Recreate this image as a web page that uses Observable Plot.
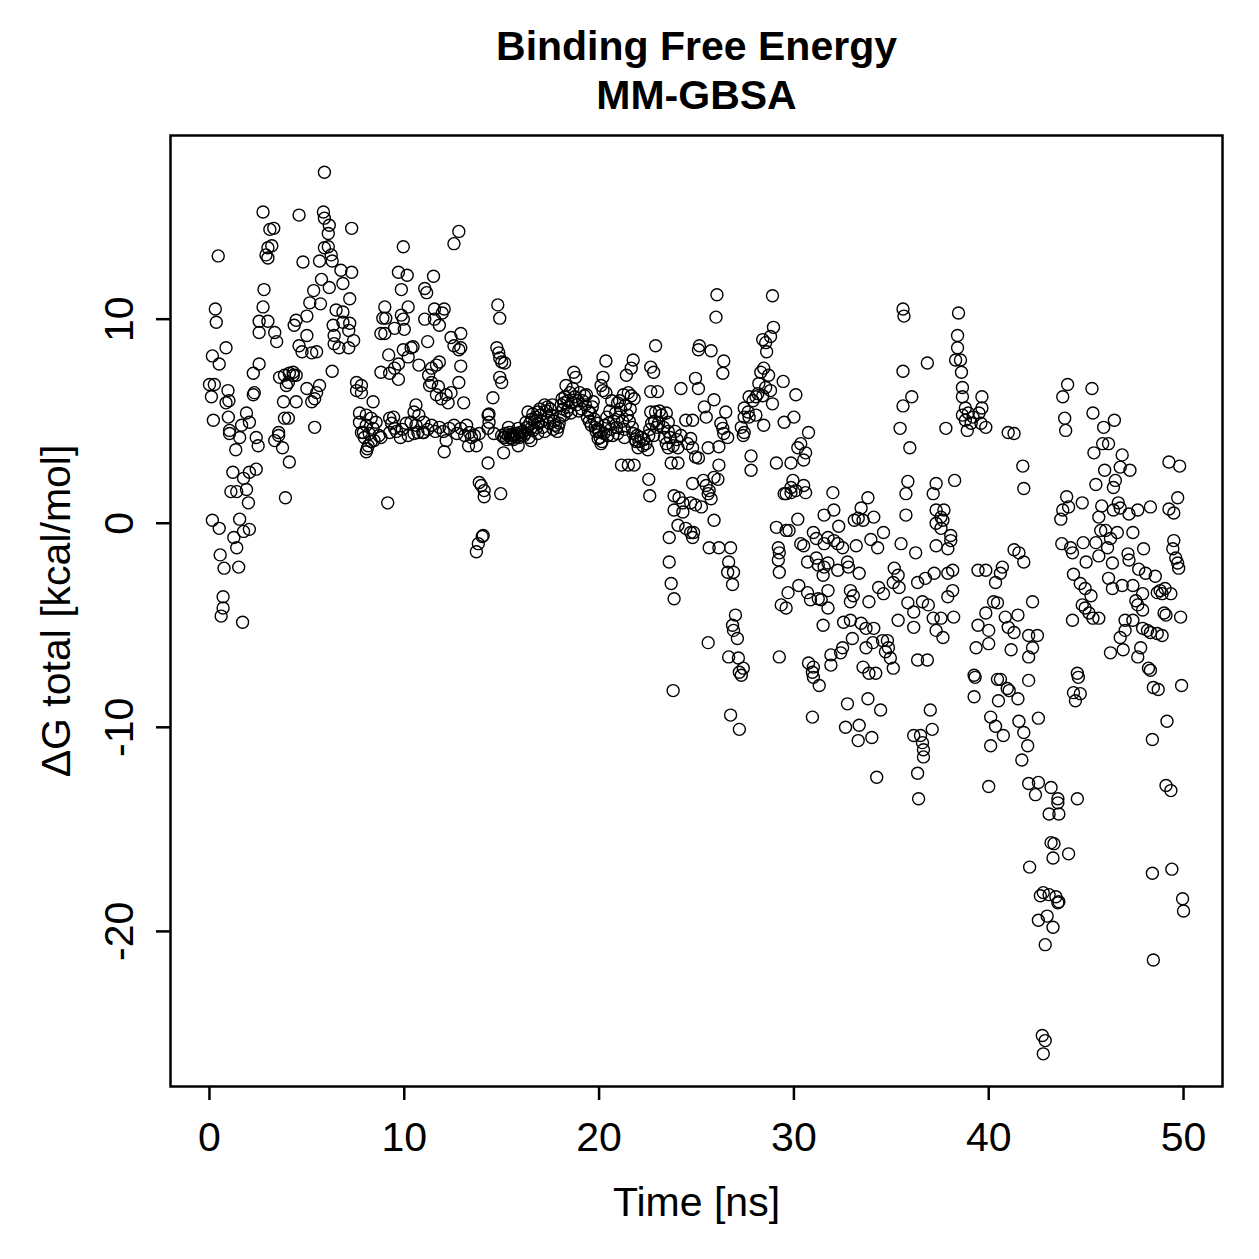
<!DOCTYPE html>
<html><head><meta charset="utf-8">
<script src="https://cdn.jsdelivr.net/npm/d3@7"></script>
<script src="https://cdn.jsdelivr.net/npm/@observablehq/plot@0.6"></script>
<style>body{margin:0;background:#fff} svg{display:block}</style>
</head><body><div id="chart"></div>
<script>
// [time (ns), ΔG total (kcal/mol)]
const seg00_10 = [[0.0,6.8],[0.1,6.2],[0.25,6.8],[0.2,5.05],[0.15,8.2],[0.3,10.5],[0.35,9.85],[0.5,7.8],[0.45,13.1],[0.15,0.15],[0.5,-0.25],[0.55,-1.55],[0.75,-2.2],[0.7,-3.6],[0.7,-4.15],[0.6,-4.55],[0.85,8.6],[0.95,6.5],[1.0,6.0],[0.85,5.9],[0.97,5.2],[1.03,4.55],
[1.03,4.4],[1.2,2.5],[1.1,1.55],[1.4,1.55],[1.25,-0.7],[1.4,-1.2],[1.5,-2.15],[1.55,0.2],[1.55,4.2],[1.35,3.6],[1.75,2.2],[1.9,1.65],[2.0,1.0],[1.75,-0.4],[2.05,-0.3],[1.7,-4.85],[1.9,5.4],[2.05,4.95],[1.65,4.8],[2.05,2.5],[2.4,2.65],[2.4,4.2],[2.5,3.8],
[2.25,7.35],[2.55,7.8],[2.3,6.4],[2.25,6.3],[2.75,15.25],[3.1,14.4],[3.3,14.45],[3.0,13.5],[3.2,13.6],[2.9,13.15],[3.0,13.0],[2.8,11.45],[2.75,10.6],[2.55,9.9],[3.0,9.9],[2.55,9.35],[3.35,9.35],[3.45,8.9],
[3.35,4.05],[3.55,4.3],[3.75,3.7],[3.55,4.45],[3.85,5.15],[4.05,5.15],[3.9,1.25],[4.1,3.0],[3.8,5.95],[3.6,7.15],[3.85,7.25],[4.1,7.35],[4.3,7.4],[4.45,7.25],[3.95,6.75],[4.45,5.95],[4.05,6.9],[4.3,7.25],
[4.6,15.1],[4.8,12.8],[4.45,9.95],[5.0,10.15],[4.35,9.7],[5.0,9.2],[4.6,8.7],[4.75,8.4],[5.25,8.35],[5.5,8.4],[5.0,6.6],[5.25,5.95],[5.4,6.1],[5.5,6.4],[5.65,6.75],[5.4,4.7],[5.15,10.8],[5.7,10.75],[5.35,11.4],[5.75,11.95],
[5.85,15.25],[5.9,14.95],[6.15,14.6],[6.1,14.2],[6.1,13.55],[5.9,13.5],[6.25,13.15],[5.9,17.2],[5.65,12.85],[6.3,12.85],[6.15,11.55],[6.3,7.45],[6.75,12.4],[7.3,12.3],[6.85,11.75],[7.2,11.0],[6.5,10.45],[6.85,10.35],[6.35,9.7],[6.85,9.85],[7.2,9.8],[6.4,9.2],[7.15,9.45],[7.4,8.95],[6.4,8.8],[6.65,8.6],[7.15,8.6],[7.3,14.45],
[7.55,6.9],[7.55,6.5],[7.7,5.4],[7.7,4.95],[7.8,4.45],[7.8,6.75],[7.8,6.4],[8.4,5.95],[8.05,5.3],[8.3,5.15],[8.55,4.95],[8.05,4.8],[8.4,4.65],[7.9,4.45],[8.2,4.4],[9.25,5.15],[9.45,5.2],[9.35,4.9],[9.25,4.45],[9.5,4.65],
[7.95,4.2],[8.15,3.8],[8.45,4.05],[8.8,4.2],[8.05,3.5],[8.1,3.65],[8.3,4.0],[8.7,4.3],
[8.8,7.4],[9.25,7.35],[9.0,10.6],[8.9,10.05],[9.05,10.05],[9.0,9.3],[8.8,9.3],[9.2,8.25],
[9.15,1.0],[9.5,9.55],[9.7,12.3],[9.95,13.55],[9.85,11.45],[9.85,10.2],[9.95,10.0],[9.7,7.8],[9.5,7.6],[9.7,7.05],[9.95,8.5],[9.6,4.5],[9.8,4.2],[9.9,4.6]];

const seg10_20 = [[10.0,9.5],[10.15,12.15],[10.2,10.6],[10.35,8.6],[10.45,8.65],[10.2,8.15],[10.6,5.8],[10.75,7.75],[10.5,5.45],[10.75,5.3],[10.35,4.95],[10.6,4.8],[11.0,4.95],[10.7,4.45],[11.0,4.45],[10.2,4.3],[10.5,4.4],[10.95,4.45],[10.1,4.9],
[11.05,11.5],[11.05,10.0],[11.15,11.3],[11.2,8.9],[11.25,7.25],[11.4,6.9],[11.3,6.75],[11.5,12.1],[11.55,10.5],[11.55,10.0],[11.8,9.7],[11.65,7.75],[11.4,7.6],[11.8,7.9],[11.75,6.7],[11.65,6.3],[11.9,6.1],[12.05,10.5],[11.95,10.3],[11.2,4.6],[11.4,4.8],[11.6,4.5],[11.8,4.7],
[12.15,6.3],[12.25,5.9],[12.4,6.4],[12.4,9.1],[12.55,13.7],[12.55,8.7],[12.8,8.5],[12.9,8.6],[12.8,6.9],[12.9,7.7],[12.9,9.3],[12.8,14.3],[13.05,5.9],[12.3,4.65],[12.55,4.8],[12.9,4.65],[13.2,4.8],[13.35,4.45],[12.05,3.5],[12.15,4.05],[12.0,4.5],[12.7,4.4],
[13.1,4.3],[13.45,4.2],[13.7,3.8],[13.3,3.8],[13.6,4.3],[13.85,4.4],[13.85,2.0],[13.95,1.85],[14.1,1.6],[14.1,1.3],[14.95,1.45],[14.0,-0.65],[14.05,-0.6],[13.8,-1.0],[13.7,-1.4],
[14.3,2.95],[14.3,5.3],[14.35,4.95],[14.3,4.65],[14.35,5.35],[14.55,6.15],[14.75,8.6],[14.85,8.35],[14.9,8.1],[15.0,7.9],[15.15,7.85],[14.9,7.15],[15.0,6.9],[14.8,10.7],[14.9,10.05],[15.1,3.45],[14.6,4.4],
[15.15,4.2],[15.5,4.15],[15.85,3.8],[16.15,4.3],[16.5,4.05],[15.35,4.7],[15.85,4.65],[16.25,4.95],[16.35,5.45],[16.5,4.65],
[15.0,4.3],[15.1,4.2],[15.2,4.4],[15.25,4.1],[15.35,4.3],[15.4,4.45],[15.45,4.2],[15.55,4.35],[15.6,4.1],[15.65,4.3],[15.75,4.4],[15.8,4.25],[15.9,4.2],[15.95,4.45],
[16.0,4.3],[16.1,4.5],[16.2,4.4],[16.3,4.7],[16.45,4.9],[16.55,5.1],[16.6,5.35],[16.7,5.0],[16.75,5.2],[16.8,4.7],[16.9,4.9],[16.95,5.6],[16.6,4.55],[16.4,4.2],[16.85,4.4],
[17.0,5.3],[17.05,5.0],[17.1,4.7],[17.2,4.5],[17.3,5.5],[17.35,5.7],[17.4,5.2],[17.45,4.9],[17.5,5.6],[17.55,5.3],[17.65,4.6],[17.7,5.0],[17.75,4.8],[17.85,4.5],[17.9,4.7],[17.95,4.9],[17.6,5.8],
[18.0,5.2],[18.05,5.8],[18.1,6.1],[18.15,5.6],[18.2,5.9],[18.25,6.2],[18.35,5.5],[18.4,6.0],[18.45,5.7],[18.5,6.4],[18.55,5.4],[18.6,5.9],[18.75,6.2],[18.85,5.8],[18.9,6.0],[18.95,5.5],[18.2,5.3],[18.65,6.6],
[19.1,5.6],[19.15,6.0],[19.3,5.8],[19.4,5.2],[19.45,5.5],[19.5,5.0],[19.55,5.4],[19.6,4.8],[19.75,5.1],[19.8,4.7],[19.85,4.5],[19.9,4.9],[19.95,4.6],[19.35,6.3],[19.65,5.7],
[17.2,5.8],[16.85,5.45],[18.7,7.4],[18.8,7.15],[18.3,6.75],[19.0,6.4],[19.25,6.25],[19.7,5.95],[19.95,4.15]];

const seg20_30 = [[20.35,7.95],[20.2,7.15],[20.1,6.75],[20.2,6.5],[20.35,6.4],[20.45,4.3],[20.95,4.4],[21.3,4.2],[20.1,3.9],
[20.0,4.5],[20.05,4.2],[20.15,4.0],[20.25,4.4],[20.3,4.8],[20.4,5.2],[20.5,4.9],[20.55,5.5],[20.6,4.6],[20.7,4.3],[20.75,5.0],[20.85,5.4],[20.9,4.7],[20.95,5.9],[20.65,6.0],
[21.0,5.2],[21.05,6.0],[21.1,5.6],[21.2,5.0],[21.25,6.3],[21.35,5.8],[21.45,5.3],[21.55,5.0],[21.6,5.6],[21.7,4.7],[21.75,4.4],[21.85,4.1],[21.9,4.0],[21.95,4.3],[21.3,4.6],
[22.05,4.0],[22.15,4.2],[22.3,4.1],[22.4,3.9],[22.55,4.3],[22.6,4.6],[22.7,4.9],[22.8,4.3],[22.85,5.0],[22.95,4.7],[23.05,4.9],[23.1,5.5],[23.3,4.7],[23.35,4.2],[23.45,3.9],
[23.55,4.5],[23.65,4.2],[23.9,4.5],[24.0,4.1],[24.2,4.3],
[21.75,8.0],[21.65,7.6],[21.4,7.25],[21.5,6.4],[21.65,6.25],[21.8,6.1],[21.15,2.85],[21.5,2.85],[21.8,2.85],
[22.65,7.65],[22.8,7.4],[22.9,8.7],[22.65,6.45],[23.0,6.45],[22.65,5.45],[22.9,5.45],[23.2,5.3],[23.45,5.4],[23.55,4.95],[22.0,3.7],[22.25,3.8],[22.5,3.6],[22.55,2.15],[22.6,1.35],
[23.55,3.7],[23.8,3.8],[24.05,3.7],[23.7,2.95],[24.05,2.95],[23.85,1.35],[24.1,1.25],[24.3,1.0],[23.85,0.65],[24.3,0.55],[24.05,-0.1],[24.45,-0.25],[24.7,-0.45],[23.6,-0.7],[23.6,-1.9],[23.7,-2.95],[23.85,-3.7],[23.8,-8.2],
[24.2,6.6],[24.45,5.05],[24.55,3.9],[24.8,5.05],[24.7,4.15],[24.8,3.7],[25.1,3.2],[24.95,3.25],[24.8,1.95],[24.7,1.0],[24.95,0.9],[25.25,0.8],[24.85,-0.45],[24.8,-0.7],
[25.15,8.7],[25.1,8.5],[24.95,7.1],[25.1,6.6],[25.75,8.45],[26.05,11.2],[26.0,10.1],[26.4,7.95],[26.35,7.35],[25.9,6.05],[25.4,5.7],[25.5,5.2],[26.5,5.45],[26.25,4.9],[26.35,4.65],[26.4,4.4],[26.6,4.2],[25.6,3.7],[26.15,3.75],[26.15,2.85],[25.9,2.25],[26.1,2.15],[25.35,2.1],[25.5,1.85],[25.65,1.6],[25.6,1.45],[25.75,1.2],[25.9,0.15],[25.65,-1.2],[26.15,-1.2],[26.75,-1.2],[26.65,-1.9],[26.6,-2.4],[26.9,-2.4],[26.85,-3.0],[27.0,-4.5],[26.85,-5.0],[26.9,-5.25],[27.1,-5.65],[25.6,-5.85],[26.65,-6.55],[27.15,-6.6],[27.4,-7.1],[27.3,-7.45],[27.2,-7.3],[26.75,-9.4],[27.2,-10.1],
[28.9,11.15],[28.95,9.6],[28.4,9.0],[28.55,8.85],[28.8,9.15],[28.6,8.4],[28.45,7.6],[28.3,7.4],[28.7,7.25],[29.45,6.95],[28.2,6.85],[28.55,6.65],[28.8,6.5],[28.15,6.35],[28.4,6.25],[27.7,6.2],[27.9,6.0],[28.05,6.2],[28.9,5.85],[27.45,5.65],[27.65,5.45],[27.7,5.2],[27.45,5.2],[27.3,4.7],[27.45,4.45],[27.4,4.3],[28.05,5.3],[28.45,4.8],[29.5,4.95],[27.8,3.3],[27.8,2.6],[29.1,2.95],[29.85,2.95],[29.95,2.1],[29.85,1.75],[29.6,1.45],[29.5,1.45],[29.85,1.5],[29.1,-0.2],[29.6,-0.35],[29.75,-0.35],[29.2,-1.2],[29.25,-1.45],[29.2,-1.8],[29.25,-2.4],[29.7,-3.4],[29.35,-4.0],[29.6,-4.15],[29.25,-6.55]];

const seg30_40 = [[30.1,6.3],[30.0,5.2],[30.75,4.45],[30.35,3.9],[30.2,3.7],[30.6,3.45],[30.5,3.1],[30.1,1.6],[30.5,1.85],[30.6,1.5],[32.0,1.5],[30.2,0.2],[31.55,0.4],[32.05,0.65],[32.3,-0.15],[33.1,0.15],[30.35,-1.0],[30.5,-1.1],[31.0,-0.45],[31.15,-0.75],[31.55,-1.0],[31.75,-0.7],[32.05,-0.85],[32.25,-1.0],[32.5,-1.2],[30.7,-1.9],[31.15,-1.7],[31.25,-2.05],[31.55,-2.15],[31.75,-1.95],[31.5,-2.55],[32.25,-2.3],[32.75,-1.9],[32.8,-2.15],[30.25,-3.05],[30.7,-3.4],[30.85,-3.75],[31.25,-3.7],[31.4,-3.75],[31.75,-3.3],[31.75,-4.15],[32.9,-3.3],[33.05,-3.55],[32.9,-3.85],[31.5,-5.0],[32.55,-4.85],[32.9,-4.75],[33.0,-5.65],[30.75,-6.85],[31.0,-7.05],[30.95,-7.3],[31.9,-6.45],[32.4,-6.35],[32.5,-6.1],[31.9,-6.95],[31.0,-7.55],[31.3,-7.95],[30.95,-9.5],[32.75,-8.85],[32.65,-10.0],
[35.6,10.5],[35.65,10.15],[38.45,10.3],[38.4,9.2],[38.4,8.6],[38.3,8.0],[38.55,8.0],[38.6,7.4],[38.65,6.65],[38.65,6.2],[39.65,6.2],[38.8,5.65],[38.65,5.3],[38.95,5.4],[39.2,5.2],[38.8,5.05],[39.1,4.9],[38.9,4.55],[39.85,4.7],[39.6,4.9],[39.65,5.65],[39.5,5.4],
[35.6,7.45],[36.85,7.85],[36.05,6.2],[35.6,5.75],[35.45,4.65],[35.95,3.7],[37.8,4.65],[35.85,2.05],[35.75,1.45],[37.3,1.95],[37.15,1.45],[38.25,2.1],[33.8,1.25],[33.45,0.75],[33.3,0.25],[33.55,0.15],[34.1,0.3],[35.75,0.4],[37.3,0.65],[37.7,0.65],[37.55,0.3],[37.65,0.15],[37.3,0.0],[37.55,-0.25],[38.05,-0.6],[38.05,-0.85],[37.9,-1.25],[37.3,-1.1],[35.5,-1.0],[36.25,-1.45],[34.6,-0.45],[33.95,-0.8],[34.3,-1.2],[33.2,-1.1],[33.35,-2.45],[35.15,-2.2],[35.35,-2.55],[35.1,-2.9],[35.4,-3.15],[36.35,-2.9],[36.75,-2.7],[37.2,-2.45],[38.15,-2.3],[37.9,-2.45],[38.15,-3.3],[37.9,-3.6],[34.35,-3.15],[34.6,-3.45],[33.85,-3.85],[35.85,-3.9],[36.15,-4.35],[36.6,-3.85],[36.9,-4.0],[35.35,-4.75],[36.15,-5.1],[37.15,-4.65],[37.55,-4.65],[38.2,-4.6],[37.3,-5.25],[37.65,-5.6],[33.45,-4.9],[33.7,-5.15],[34.1,-5.15],[34.05,-5.85],[33.7,-6.1],[34.55,-5.75],[34.8,-5.75],[34.85,-6.1],[34.7,-6.3],[34.95,-6.6],[35.1,-7.1],[34.2,-7.35],[33.85,-7.35],[33.55,-7.05],[36.35,-6.7],[36.85,-6.7],[39.25,-7.45],[39.45,-2.3],[39.85,-2.3],[39.85,-4.4],[39.45,-5.0],[39.35,-6.1],
[33.8,-8.6],[34.45,-9.15],[33.35,-9.9],[33.3,-10.65],[34.0,-10.5],[34.25,-12.45],[37.0,-9.15],[37.1,-10.1],[36.15,-10.4],[36.5,-10.4],[36.6,-10.75],[36.65,-11.1],[36.65,-11.45],[36.35,-12.25],[36.4,-13.5],[39.3,-7.55],[39.25,-8.5]];

const seg40_50 = [[40.35,-2.9],[40.6,-2.45],[40.7,-2.15],[40.25,-3.85],[40.45,-3.9],[40.0,-5.25],[40.0,-5.9],[40.85,-4.6],[41.0,-5.1],[41.3,-5.35],[41.5,-4.5],[41.15,-6.2],[41.3,-1.3],[41.55,-1.45],[41.8,-1.9],[41.0,4.45],[41.3,4.4],[41.75,2.8],[41.8,1.7],
[40.45,-7.65],[40.6,-7.65],[40.95,-8.1],[41.05,-8.2],[40.5,-8.7],[41.5,-8.6],[40.1,-9.5],[40.35,-9.95],[40.75,-10.4],[40.1,-10.9],[40.0,-12.9],[41.55,-9.7],[41.8,-10.25],[42.0,-10.9],[41.7,-11.6],[42.05,-12.75],[42.1,-16.85],
[42.25,-3.85],[42.05,-5.5],[42.5,-5.5],[42.25,-6.1],[42.05,-6.55],[42.05,-7.7],[42.55,-9.55],[42.55,-12.7],[42.4,-13.3],[43.2,-12.95],[43.55,-13.5],[43.55,-13.7],[43.1,-14.25],[43.6,-14.25],[44.55,-13.5],[43.2,-15.65],[43.35,-15.7],[43.3,-16.4],[44.1,-16.2],[42.65,-18.25],[42.8,-18.1],[43.1,-18.2],[43.45,-18.3],[43.55,-18.6],[43.6,-18.55],[42.55,-19.45],[43.0,-19.25],[43.3,-19.8],[42.9,-20.65],[42.75,-25.1],[42.9,-25.35],[42.8,-26.0],
[44.05,6.8],[43.8,6.2],[45.3,6.6],[43.9,5.15],[43.95,4.55],[45.35,5.4],[46.45,5.05],[45.9,4.7],[45.85,3.9],[46.15,3.9],[45.4,3.45],[46.85,3.35],[46.75,2.75],[47.25,2.6],[45.95,2.6],[45.5,1.9],[46.5,2.1],[46.4,1.75],[49.25,3.0],[49.8,2.8],[49.7,1.25],[44.0,1.3],[43.8,0.65],[43.7,0.2],[44.1,0.8],[44.8,1.0],[45.8,0.85],[46.4,0.65],[46.65,1.0],[46.75,0.75],[47.2,0.45],[47.65,0.65],[48.3,0.8],[45.65,0.3],[49.25,0.7],[49.5,0.5],[43.75,-1.0],[44.2,-1.2],[44.3,-1.45],[44.85,-0.95],[45.5,-0.95],[45.75,-0.35],[46.0,-0.35],[46.25,-0.75],[46.1,-1.2],[46.6,-0.45],[45.65,-1.6],[45.0,-1.9],[46.35,-1.95],[47.15,-1.5],[47.2,-1.8],[47.4,-0.45],[47.95,-1.25],[47.7,-2.25],[48.05,-2.45],[48.55,-2.6],[49.5,-0.85],[49.45,-1.25],[49.6,-1.7],[49.7,-1.95],[49.75,-2.2],[44.35,-2.5],[44.7,-2.95],[44.95,-3.2],[45.25,-3.55],[46.15,-2.7],[46.35,-3.2],[46.85,-3.05],[47.4,-3.05],[47.9,-3.45],[47.55,-3.8],[47.65,-4.0],[47.9,-4.25],[48.65,-3.4],[48.8,-3.3],[48.9,-3.45],[49.05,-3.2],[49.35,-3.45],[49.0,-4.4],[49.1,-4.5],[49.85,-4.6],[44.8,-4.0],[44.95,-4.15],[45.15,-4.4],[45.35,-4.65],[45.65,-4.65],[44.3,-4.75],[47.0,-4.75],[47.4,-4.75],[47.0,-5.25],[46.75,-5.6],[47.9,-5.15],[48.15,-5.25],[48.3,-5.35],[48.65,-5.4],[48.9,-5.5],[47.8,-6.1],[47.65,-6.55],[46.9,-6.2],[46.25,-6.35],[48.2,-7.1],[44.55,-7.35],[44.6,-7.55],[44.35,-8.3],[44.7,-8.35],[44.45,-8.7],
[48.3,-7.2],[48.45,-8.05],[48.7,-8.15],[49.9,-7.95],[49.15,-9.7],[48.4,-10.6],[49.1,-12.85],[49.35,-13.1],[48.4,-17.15],[49.4,-16.95],[49.95,-18.4],[50.0,-19.0],[48.45,-21.4]];

const xTicks = [0, 10, 20, 30, 40, 50];
const yTicks = [-20, -10, 0, 10];
const titleLines = ["Binding Free Energy", "MM-GBSA"];
const xLabel = "Time [ns]";
const yLabel = "ΔG total [kcal/mol]";

const data = [...seg00_10, ...seg10_20, ...seg20_30, ...seg30_40, ...seg40_50].map(([t, g]) => ({t, g}));
const font = "'Liberation Sans', Arial, Helvetica, sans-serif";
const fs = 41;

const chart = Plot.plot({
  width: 1259, height: 1259,
  marginLeft: 170, marginRight: 37, marginTop: 135, marginBottom: 173,
  style: {fontFamily: font, background: "white", color: "black", overflow: "visible"},
  x: {domain: [-2, 52]},
  y: {domain: [-27.6, 19.0]},
  marks: [
    Plot.dot(data, {x: "t", y: "g", r: 6, stroke: "black", strokeWidth: 1.4, fill: "none"}),
    Plot.frame({stroke: "black", strokeWidth: 2.5}),
    Plot.axisX({ticks: xTicks, tickSize: 14, tickFormat: () => "", strokeWidth: 2.5, label: null}),
    Plot.axisY({ticks: yTicks, tickSize: 14, tickFormat: () => "", strokeWidth: 2.5, label: null}),
    Plot.text(xTicks, {x: d => d, text: d => String(d), frameAnchor: "bottom", lineAnchor: "middle", textAnchor: "middle", dy: 51, fontSize: fs}),
    Plot.text(yTicks, {y: d => d, text: d => String(d), frameAnchor: "left", lineAnchor: "middle", textAnchor: "middle", dx: -51, rotate: -90, fontSize: fs}),
    Plot.text([xLabel], {frameAnchor: "bottom", lineAnchor: "middle", textAnchor: "middle", dy: 116, fontSize: fs}),
    Plot.text([yLabel], {frameAnchor: "left", lineAnchor: "middle", textAnchor: "middle", dx: -114, rotate: -90, fontSize: fs}),
    Plot.text([titleLines[0]], {frameAnchor: "top", lineAnchor: "middle", textAnchor: "middle", dy: -89, fontSize: 41, fontWeight: "bold"}),
    Plot.text([titleLines[1]], {frameAnchor: "top", lineAnchor: "middle", textAnchor: "middle", dy: -40, fontSize: 41, fontWeight: "bold"})
  ]
});
document.getElementById("chart").appendChild(chart);
</script>
</body></html>
